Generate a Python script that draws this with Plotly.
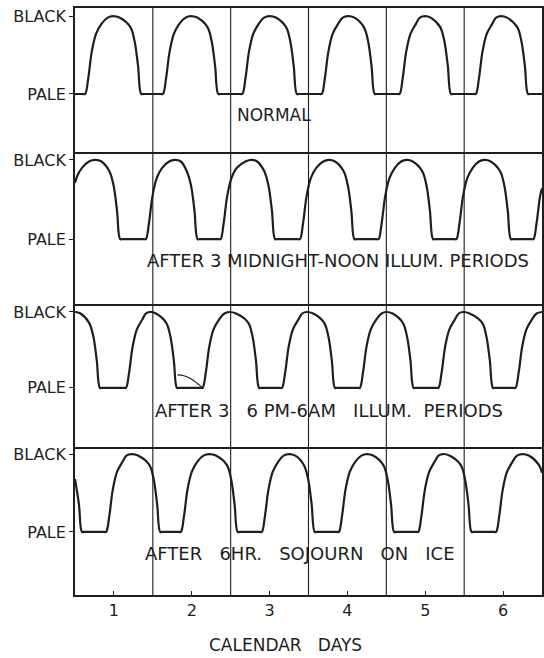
import plotly.graph_objects as go
from plotly.subplots import make_subplots

# ---- chromatophore state (0 = pale, 1 = black) against calendar day ----
normal_day = [0.50, 0.60,
              0.63, 0.67, 0.715, 0.77, 0.84, 0.92, 0.99, 1.07, 1.21, 1.265, 1.31, 1.35, 1.38,
              1.60, 1.63, 1.67, 1.715, 1.77, 1.84, 1.92, 1.99, 2.07, 2.20, 2.255, 2.30, 2.34, 2.37,
              2.62, 2.65, 2.69, 2.735, 2.79, 2.86, 2.93, 3.00, 3.08, 3.21, 3.265, 3.31, 3.35, 3.38,
              3.64, 3.67, 3.71, 3.755, 3.81, 3.88, 3.94, 4.01, 4.09, 4.21, 4.265, 4.31, 4.35, 4.38,
              4.64, 4.67, 4.71, 4.755, 4.81, 4.88, 4.93, 5.00, 5.07, 5.19, 5.245, 5.29, 5.33, 5.36,
              5.62, 5.65, 5.69, 5.735, 5.79, 5.86, 5.91, 5.98, 6.05, 6.18, 6.235, 6.28, 6.32, 6.35,
              6.50]
normal_level = [0.0, 0.0,
                0.0, 0.2, 0.54, 0.77, 0.9, 0.98, 1.0, 0.98, 0.86, 0.68, 0.36, 0.0, 0.0,
                0.0, 0.0, 0.2, 0.54, 0.77, 0.9, 0.98, 1.0, 0.98, 0.86, 0.68, 0.36, 0.0, 0.0,
                0.0, 0.0, 0.2, 0.54, 0.77, 0.9, 0.98, 1.0, 0.98, 0.86, 0.68, 0.36, 0.0, 0.0,
                0.0, 0.0, 0.2, 0.54, 0.77, 0.9, 0.98, 1.0, 0.98, 0.86, 0.68, 0.36, 0.0, 0.0,
                0.0, 0.0, 0.2, 0.54, 0.77, 0.9, 0.98, 1.0, 0.98, 0.86, 0.68, 0.36, 0.0, 0.0,
                0.0, 0.0, 0.2, 0.54, 0.77, 0.9, 0.98, 1.0, 0.98, 0.86, 0.68, 0.36, 0.0, 0.0,
                0.0]

midnight_day = [0.50, 0.53, 0.59, 0.68, 0.76, 0.84, 0.94, 0.995, 1.04, 1.08, 1.11,
                1.38, 1.41, 1.45, 1.495, 1.55, 1.62, 1.71, 1.78, 1.86, 1.935, 1.99, 2.035, 2.075, 2.105,
                2.34, 2.37, 2.41, 2.455, 2.51, 2.58, 2.69, 2.77, 2.84, 2.93, 2.985, 3.03, 3.07, 3.10,
                3.36, 3.39, 3.43, 3.475, 3.53, 3.60, 3.69, 3.76, 3.84, 3.95, 4.005, 4.05, 4.09, 4.12,
                4.37, 4.40, 4.44, 4.485, 4.54, 4.61, 4.69, 4.76, 4.84, 4.96, 5.015, 5.06, 5.10, 5.13,
                5.37, 5.40, 5.44, 5.485, 5.54, 5.61, 5.69, 5.76, 5.84, 5.96, 6.015, 6.06, 6.10, 6.13,
                6.36, 6.39, 6.43, 6.475, 6.50]
midnight_level = [0.71, 0.8, 0.9, 0.98, 1.0, 0.98, 0.86, 0.68, 0.36, 0.0, 0.0,
                  0.0, 0.0, 0.2, 0.54, 0.77, 0.9, 0.98, 1.0, 0.98, 0.86, 0.68, 0.36, 0.0, 0.0,
                  0.0, 0.0, 0.2, 0.54, 0.77, 0.9, 0.98, 1.0, 0.98, 0.86, 0.68, 0.36, 0.0, 0.0,
                  0.0, 0.0, 0.2, 0.54, 0.77, 0.9, 0.98, 1.0, 0.98, 0.86, 0.68, 0.36, 0.0, 0.0,
                  0.0, 0.0, 0.2, 0.54, 0.77, 0.9, 0.98, 1.0, 0.98, 0.86, 0.68, 0.36, 0.0, 0.0,
                  0.0, 0.0, 0.2, 0.54, 0.77, 0.9, 0.98, 1.0, 0.98, 0.86, 0.68, 0.36, 0.0, 0.0,
                  0.0, 0.0, 0.2, 0.54, 0.64]

evening_day = [0.50, 0.57, 0.68, 0.735, 0.78, 0.82, 0.85,
               1.125, 1.155, 1.195, 1.24, 1.295, 1.365, 1.41, 1.46, 1.54, 1.67, 1.725, 1.77, 1.81, 1.84,
               2.11, 2.14, 2.18, 2.225, 2.28, 2.35, 2.42, 2.48, 2.57, 2.725, 2.78, 2.825, 2.865, 2.895,
               3.13, 3.16, 3.20, 3.245, 3.30, 3.37, 3.42, 3.48, 3.56, 3.70, 3.755, 3.80, 3.84, 3.87,
               4.13, 4.16, 4.20, 4.245, 4.30, 4.37, 4.44, 4.50, 4.58, 4.71, 4.765, 4.81, 4.85, 4.88,
               5.14, 5.17, 5.21, 5.255, 5.31, 5.38, 5.43, 5.49, 5.57, 5.73, 5.785, 5.83, 5.87, 5.90,
               6.13, 6.16, 6.20, 6.245, 6.30, 6.37, 6.43, 6.50]
evening_level = [1.0, 0.98, 0.86, 0.68, 0.36, 0.0, 0.0,
                 0.0, 0.0, 0.2, 0.54, 0.77, 0.9, 0.98, 1.0, 0.98, 0.86, 0.68, 0.36, 0.0, 0.0,
                 0.0, 0.0, 0.2, 0.54, 0.77, 0.9, 0.98, 1.0, 0.98, 0.86, 0.68, 0.36, 0.0, 0.0,
                 0.0, 0.0, 0.2, 0.54, 0.77, 0.9, 0.98, 1.0, 0.98, 0.86, 0.68, 0.36, 0.0, 0.0,
                 0.0, 0.0, 0.2, 0.54, 0.77, 0.9, 0.98, 1.0, 0.98, 0.86, 0.68, 0.36, 0.0, 0.0,
                 0.0, 0.0, 0.2, 0.54, 0.77, 0.9, 0.98, 1.0, 0.98, 0.86, 0.68, 0.36, 0.0, 0.0,
                 0.0, 0.0, 0.2, 0.54, 0.77, 0.9, 0.98, 1.0]

# secondary trace drawn in the second trough of the 6 PM-6 AM record
evening_branch_day = [1.815, 1.90, 1.99, 2.08, 2.14]
evening_branch_level = [0.17, 0.16, 0.12, 0.05, 0.0]

ice_day = [0.50, 0.55, 0.59, 0.62,
           0.87, 0.90, 0.94, 0.985, 1.04, 1.11, 1.16, 1.23, 1.31, 1.455, 1.51, 1.555, 1.595, 1.625,
           1.83, 1.86, 1.90, 1.945, 2.00, 2.07, 2.15, 2.23, 2.31, 2.45, 2.505, 2.55, 2.59, 2.62,
           2.87, 2.90, 2.94, 2.985, 3.04, 3.11, 3.18, 3.25, 3.33, 3.44, 3.495, 3.54, 3.58, 3.61,
           3.86, 3.89, 3.93, 3.975, 4.03, 4.10, 4.18, 4.25, 4.33, 4.46, 4.515, 4.56, 4.60, 4.63,
           4.88, 4.91, 4.95, 4.995, 5.05, 5.12, 5.17, 5.23, 5.31, 5.455, 5.51, 5.555, 5.595, 5.625,
           5.88, 5.91, 5.95, 5.995, 6.05, 6.12, 6.18, 6.25, 6.33, 6.46, 6.50]
ice_level = [0.68, 0.36, 0.0, 0.0,
             0.0, 0.0, 0.2, 0.54, 0.77, 0.9, 0.98, 1.0, 0.98, 0.86, 0.68, 0.36, 0.0, 0.0,
             0.0, 0.0, 0.2, 0.54, 0.77, 0.9, 0.98, 1.0, 0.98, 0.86, 0.68, 0.36, 0.0, 0.0,
             0.0, 0.0, 0.2, 0.54, 0.77, 0.9, 0.98, 1.0, 0.98, 0.86, 0.68, 0.36, 0.0, 0.0,
             0.0, 0.0, 0.2, 0.54, 0.77, 0.9, 0.98, 1.0, 0.98, 0.86, 0.68, 0.36, 0.0, 0.0,
             0.0, 0.0, 0.2, 0.54, 0.77, 0.9, 0.98, 1.0, 0.98, 0.86, 0.68, 0.36, 0.0, 0.0,
             0.0, 0.0, 0.2, 0.54, 0.77, 0.9, 0.98, 1.0, 0.98, 0.86, 0.76]

NB = "\u00a0"
panel_titles = ["NORMAL",
                "AFTER 3 MIDNIGHT-NOON ILLUM. PERIODS",
                "AFTER 3" + NB * 3 + "6" + NB + "PM-6AM" + NB * 3 + "ILLUM." + NB * 2 + "PERIODS",
                "AFTER" + NB * 3 + "6HR." + NB * 3 + "SOJOURN" + NB * 3 + "ON" + NB * 3 + "ICE"]
day_ticks = [1, 2, 3, 4, 5, 6]
day_labels = ["1", "2", "3", "4", "5", "6"]
day_bounds = [1.5, 2.5, 3.5, 4.5, 5.5]
level_ticks = [0, 1]
level_labels = ["PALE", "BLACK"]
x_title = "CALENDAR" + NB * 3 + "DAYS"

# ---- layout constants ----
INK = "#1e1e1e"
FONT = "DejaVu Sans"
panel_ranges = [[-0.744, 1.103], [-0.82, 1.10], [-0.78, 1.105], [-0.81, 1.09]]
panel_domains = [[0.7547, 1.0], [0.4957, 0.7547], [0.2521, 0.4957], [0.0, 0.2521]]
title_pos = [(2.55, -0.27), (1.40, -0.27), (1.50, -0.30), (1.37, -0.28)]

fig = make_subplots(rows=4, cols=1, shared_xaxes=True, vertical_spacing=0)

records = [(normal_day, normal_level), (midnight_day, midnight_level),
           (evening_day, evening_level), (ice_day, ice_level)]
for i, (xd, yd) in enumerate(records):
    fig.add_trace(go.Scatter(x=xd, y=yd, mode="lines",
                             line=dict(color=INK, width=2.2, shape="spline", smoothing=1.0),
                             hoverinfo="skip", showlegend=False),
                  row=i + 1, col=1)

fig.add_trace(go.Scatter(x=evening_branch_day, y=evening_branch_level, mode="lines",
                         line=dict(color=INK, width=1.2, shape="spline", smoothing=1.0),
                         hoverinfo="skip", showlegend=False),
              row=3, col=1)

for i in range(4):
    n = "" if i == 0 else str(i + 1)
    last = i == 3
    fig.layout["xaxis" + n].update(
        range=[0.5, 6.5], showgrid=False, zeroline=False,
        showline=True, mirror=(i == 0), linecolor=INK, linewidth=1.8,
        tickvals=day_ticks, ticktext=day_labels,
        ticks="inside" if last else "", ticklen=4, tickcolor=INK,
        showticklabels=last,
        tickfont=dict(family=FONT, size=16, color=INK),
    )
    fig.layout["yaxis" + n].update(
        range=panel_ranges[i], domain=panel_domains[i],
        showgrid=False, zeroline=False,
        showline=True, mirror=True, linecolor=INK, linewidth=1.8,
        tickvals=level_ticks, ticktext=level_labels,
        ticks="outside", ticklen=4, tickcolor=INK,
        tickfont=dict(family=FONT, size=16, color=INK),
    )
    tx, ty = title_pos[i]
    fig.add_annotation(x=tx, y=ty, xref="x" + n, yref="y" + n,
                       text=panel_titles[i], showarrow=False,
                       xanchor="left", yanchor="middle",
                       font=dict(family=FONT, size=18 if i else 17, color=INK))

# day boundaries run through all four records
for b in day_bounds:
    fig.add_shape(type="line", x0=b, x1=b, y0=0, y1=1, xref="x", yref="paper",
                  line=dict(color=INK, width=1.1), layer="below")

fig.add_annotation(x=0.45, y=-0.085, xref="paper", yref="paper",
                   text=x_title, showarrow=False,
                   xanchor="center", yanchor="middle",
                   font=dict(family=FONT, size=17, color=INK))

fig.update_layout(
    width=544, height=658,
    margin=dict(l=75, r=0, t=8, b=63),
    paper_bgcolor="white", plot_bgcolor="white",
    showlegend=False,
)

fig.write_html("out.html")
